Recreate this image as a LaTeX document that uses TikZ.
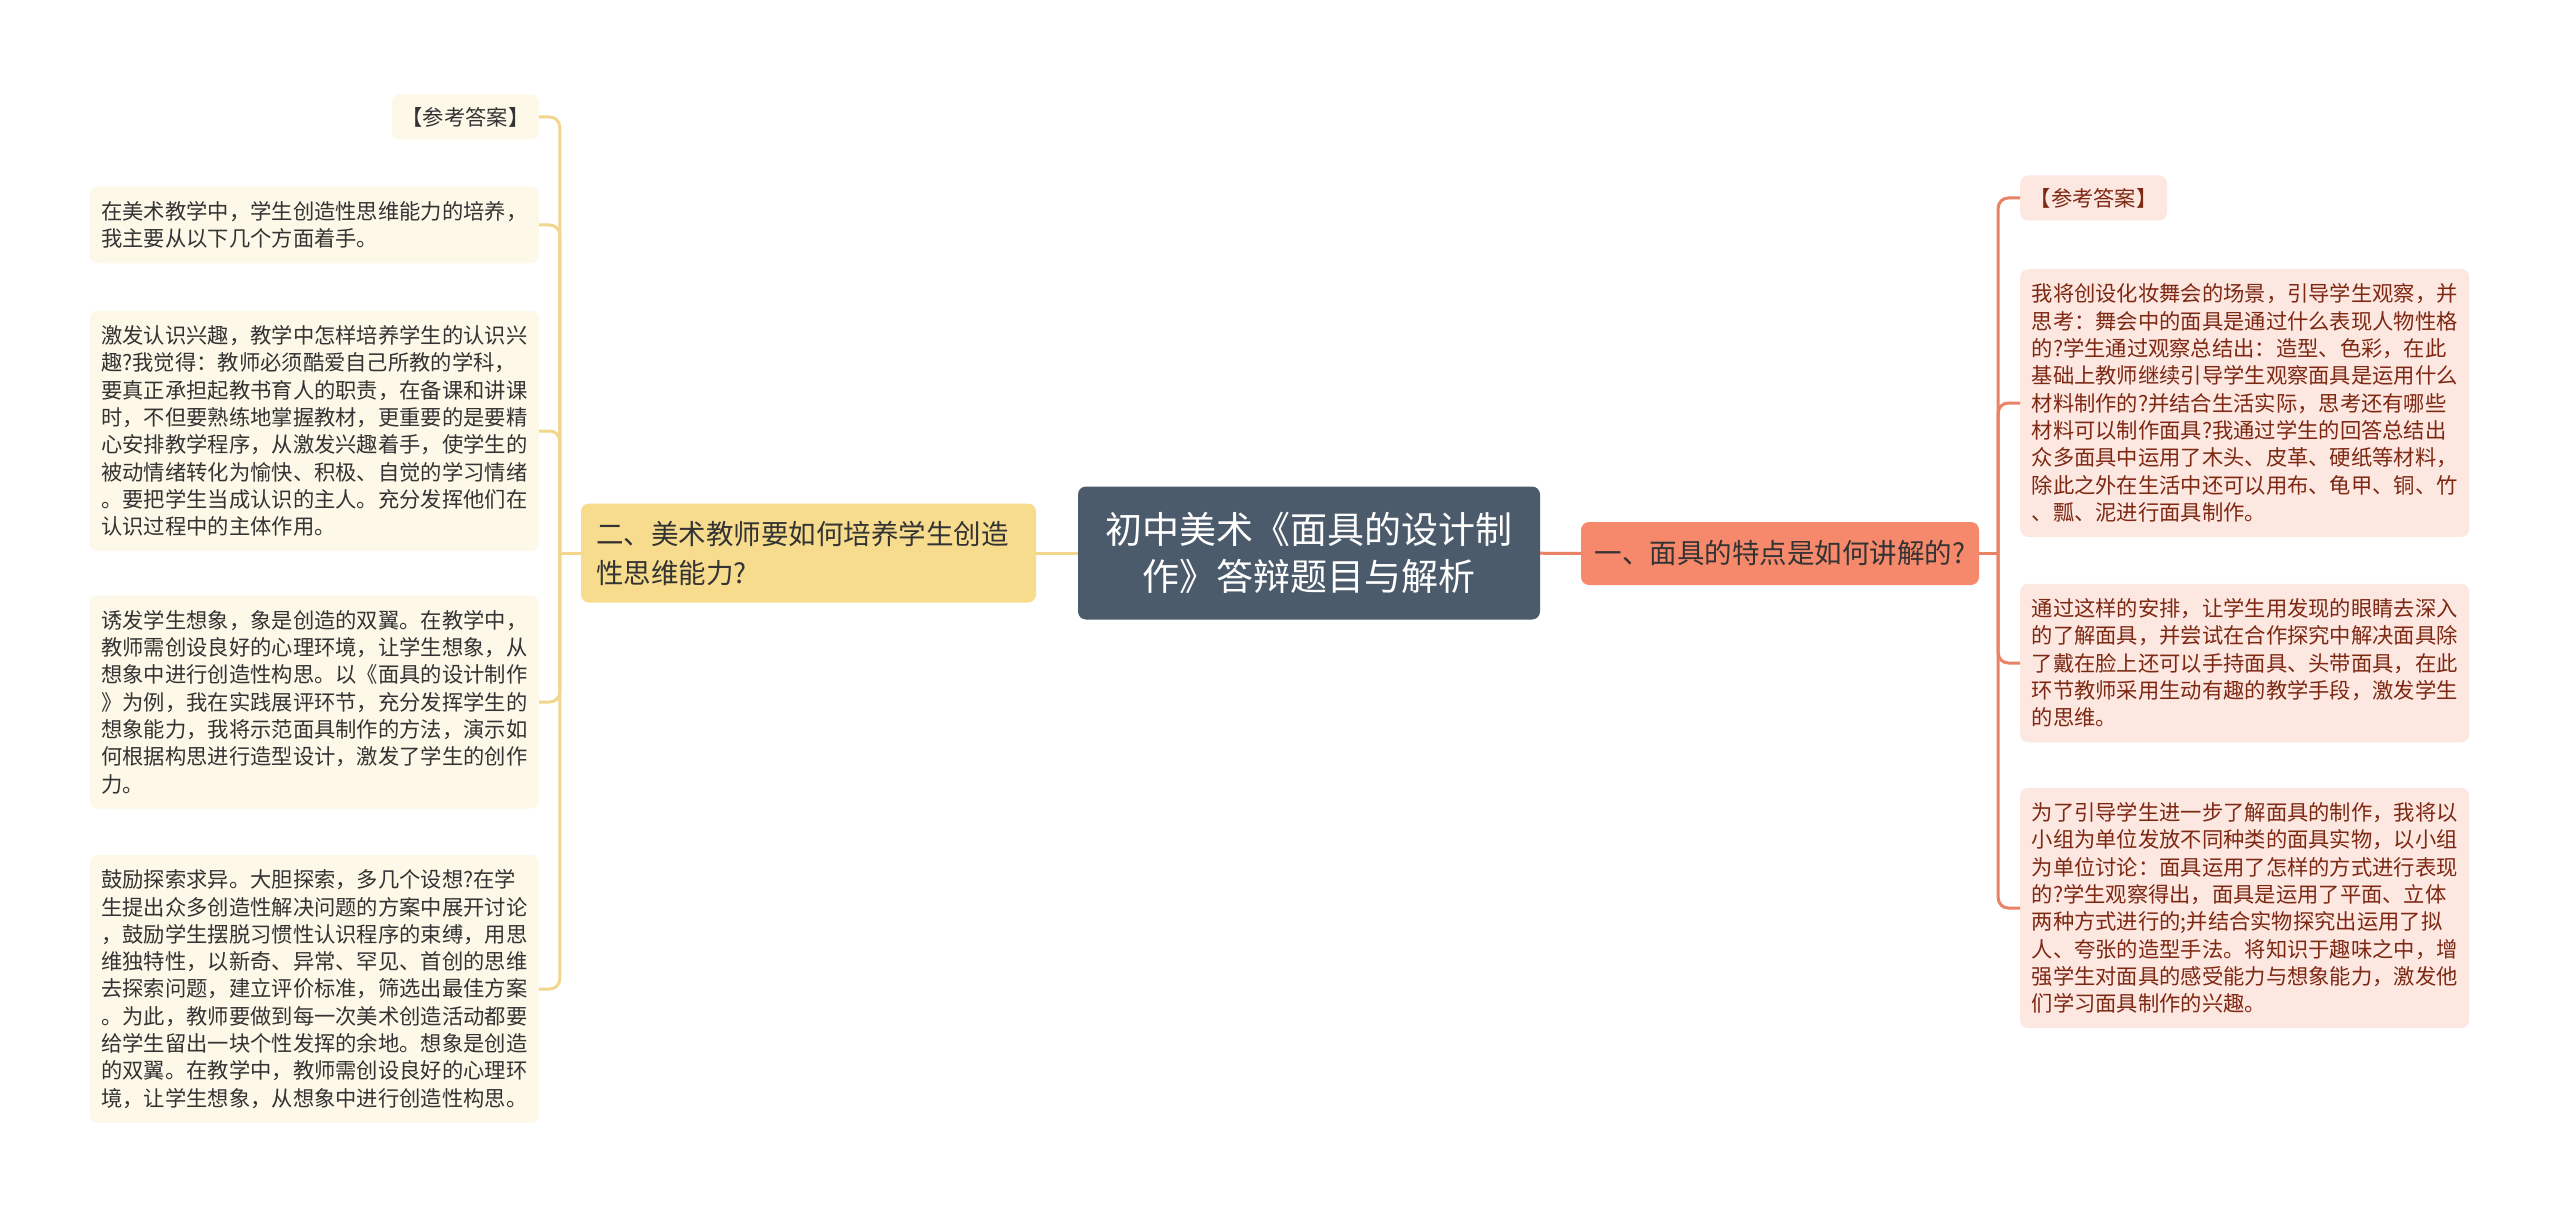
\documentclass[tikz,border=0pt]{standalone}
\usepackage{fontspec}
\setmainfont{Noto Sans CJK SC}
\usepackage{tikz}

\definecolor{rootfill}{HTML}{4B5B6B}
\definecolor{yelfill}{HTML}{F7DC8E}
\definecolor{yelline}{HTML}{F2D68C}
\definecolor{yelleaf}{HTML}{FDF8E8}
\definecolor{redfill}{HTML}{F6896B}
\definecolor{redline}{HTML}{EA8266}
\definecolor{redleaf}{HTML}{FDE7E1}
\definecolor{redtext}{HTML}{7D2812}
\definecolor{graytext}{HTML}{333333}

\begin{document}
\begin{tikzpicture}[x=1pt, y=-1pt]
	\tikzset{root/.style = {fill=rootfill, text=white, rounded corners=8pt, minimum width=462pt, minimum height=133pt, align=center, font=\fontsize{37pt}{47pt}\selectfont}}
	\tikzset{branch/.style = {rounded corners=8pt, text=graytext, font=\fontsize{27.5pt}{39pt}\selectfont}}
	\tikzset{branchL/.style = {branch, fill=yelfill, text width=425pt, inner xsep=15pt, minimum height=99pt, align=left}}
	\tikzset{branchR/.style = {branch, fill=redfill, minimum width=398pt, minimum height=63pt}}
	\tikzset{leaf/.style = {rounded corners=8pt, text width=426pt, inner xsep=11.5pt, inner ysep=0pt, align=left, minimum height=#1*27.3pt+22pt, font=\fontsize{21.3pt}{27.3pt}\selectfont}}
	\tikzset{leafL/.style = {leaf=#1, fill=yelleaf, text=graytext, anchor=east}}
	\tikzset{leafR/.style = {leaf=#1, fill=redleaf, text=redtext, anchor=west}}
	\tikzset{tag/.style = {rounded corners=8pt, inner xsep=9.5pt, minimum height=45pt, font=\fontsize{21.3pt}{27.3pt}\selectfont}}
	\tikzset{edgeL/.style = {draw=yelline, line width=3pt, rounded corners=10pt}}
	\tikzset{edgeR/.style = {draw=redline, line width=3pt, rounded corners=10pt}}
	\fill[white] (0,0) rectangle (2560,1217);
	\useasboundingbox (0,0) rectangle (2560,1217);
	% centre and the two questions
	\node[root] (root) at (1309, 553) {初中美术《面具的设计制\\作》答辩题目与解析};
	\node[branchL] (qtwo) at (808.5, 553) {二、美术教师要如何培养学生创造\\性思维能力?};
	\node[branchR] (qone) at (1780, 553.5) {一、面具的特点是如何讲解的?};
	% left answers
	\node[tag, fill=yelleaf, text=graytext, anchor=east] (ansL) at (539, 117) {【参考答案】};
	\node[leafL=2] (twoa) at (539, 225) {在美术教学中，学生创造性思维能力的培养，\\我主要从以下几个方面着手。};
	\node[leafL=8] (twob) at (539, 431) {激发认识兴趣，教学中怎样培养学生的认识兴\\趣?我觉得：教师必须酷爱自己所教的学科，\\要真正承担起教书育人的职责，在备课和讲课\\时，不但要熟练地掌握教材，更重要的是要精\\心安排教学程序，从激发兴趣着手，使学生的\\被动情绪转化为愉快、积极、自觉的学习情绪\\。要把学生当成认识的主人。充分发挥他们在\\认识过程中的主体作用。};
	\node[leafL=7] (twoc) at (539, 702) {诱发学生想象，象是创造的双翼。在教学中，\\教师需创设良好的心理环境，让学生想象，从\\想象中进行创造性构思。以《面具的设计制作\\》为例，我在实践展评环节，充分发挥学生的\\想象能力，我将示范面具制作的方法，演示如\\何根据构思进行造型设计，激发了学生的创作\\力。};
	\node[leafL=9] (twod) at (539, 989) {鼓励探索求异。大胆探索，多几个设想?在学\\生提出众多创造性解决问题的方案中展开讨论\\，鼓励学生摆脱习惯性认识程序的束缚，用思\\维独特性，以新奇、异常、罕见、首创的思维\\去探索问题，建立评价标准，筛选出最佳方案\\。为此，教师要做到每一次美术创造活动都要\\给学生留出一块个性发挥的余地。想象是创造\\的双翼。在教学中，教师需创设良好的心理环\\境，让学生想象，从想象中进行创造性构思。};
	% right answers
	\node[tag, fill=redleaf, text=redtext, anchor=west] (ansR) at (2020, 198) {【参考答案】};
	\node[leafR=9] (onea) at (2020, 403) {我将创设化妆舞会的场景，引导学生观察，并\\思考：舞会中的面具是通过什么表现人物性格\\的?学生通过观察总结出：造型、色彩，在此\\基础上教师继续引导学生观察面具是运用什么\\材料制作的?并结合生活实际，思考还有哪些\\材料可以制作面具?我通过学生的回答总结出\\众多面具中运用了木头、皮革、硬纸等材料，\\除此之外在生活中还可以用布、龟甲、铜、竹\\、瓢、泥进行面具制作。};
	\node[leafR=5] (oneb) at (2020, 663) {通过这样的安排，让学生用发现的眼睛去深入\\的了解面具，并尝试在合作探究中解决面具除\\了戴在脸上还可以手持面具、头带面具，在此\\环节教师采用生动有趣的教学手段，激发学生\\的思维。};
	\node[leafR=8] (onec) at (2020, 908) {为了引导学生进一步了解面具的制作，我将以\\小组为单位发放不同种类的面具实物，以小组\\为单位讨论：面具运用了怎样的方式进行表现\\的?学生观察得出，面具是运用了平面、立体\\两种方式进行的;并结合实物探究出运用了拟\\人、夸张的造型手法。将知识于趣味之中，增\\强学生对面具的感受能力与想象能力，激发他\\们学习面具制作的兴趣。};
	% connectors
	\coordinate (jL) at ([xshift=-21pt]qtwo.west);
	\coordinate (jR) at ([xshift=19pt]qone.east);
	\draw[edgeL] (root) -- (qtwo);
	\draw[edgeR] (root) -- (qone);
	\draw[edgeL] (qtwo.west) -- (jL);
	\draw[edgeR] (qone.east) -- (jR);
	\foreach \n in {ansL, twoa, twob, twoc, twod}
		\draw[edgeL] (jL) |- (\n.east);
	\foreach \n in {ansR, onea, oneb, onec}
		\draw[edgeR] (jR) |- (\n.west);
\end{tikzpicture}
\end{document}
